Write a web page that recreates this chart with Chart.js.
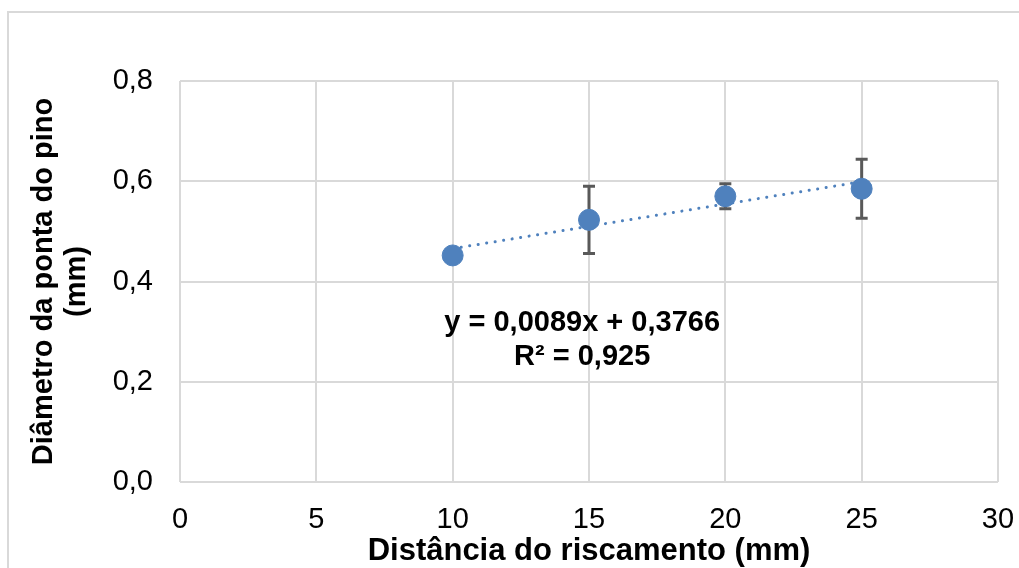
<!DOCTYPE html>
<html>
<head>
<meta charset="utf-8">
<script src="https://cdn.jsdelivr.net/npm/chart.js@4"></script>
<style>
  html, body { margin: 0; padding: 0; background: #fff; overflow: hidden; }
  #wrap { position: relative; width: 1019px; height: 568px; }
  #frame { position: absolute; left: 7px; top: 11px; width: 2000px; height: 2000px; border: 2px solid #d9d9d9; }
  canvas { position: absolute; left: 0; top: 0; }
</style>
</head>
<body>
<div id="wrap">
  <div id="frame"></div>
  <canvas id="chart" width="1019" height="568"></canvas>
</div>
<script>
// data
const distances = [10, 15, 20, 25];
const diameters = [0.452, 0.523, 0.570, 0.585];
const errors = [0.004, 0.067, 0.025, 0.059];

const xTicks = [0, 5, 10, 15, 20, 25, 30];
const yTicks = ["0,0", "0,2", "0,4", "0,6", "0,8"];

// linear trendline from the equation on the chart
const slope = 0.0089;
const intercept = 0.3766;
const trendLabel = ["y = 0,0089x + 0,3766", "R² = 0,925"];

const blue = "#4f81bd";
const gridColor = "#d9d9d9";

const errorBars = {
  id: "errorBars",
  beforeDatasetsDraw(chart) {
    const { ctx, scales } = chart;
    ctx.save();
    ctx.strokeStyle = "#595959";
    ctx.lineWidth = 3;
    distances.forEach((d, i) => {
      const x = scales.x.getPixelForValue(d);
      const top = scales.y.getPixelForValue(diameters[i] + errors[i]);
      const bot = scales.y.getPixelForValue(diameters[i] - errors[i]);
      ctx.beginPath();
      ctx.moveTo(x, top);
      ctx.lineTo(x, bot);
      ctx.moveTo(x - 6, top);
      ctx.lineTo(x + 6, top);
      ctx.moveTo(x - 6, bot);
      ctx.lineTo(x + 6, bot);
      ctx.stroke();
    });
    ctx.restore();
  },
  afterDraw(chart) {
    const { ctx, scales } = chart;
    ctx.save();
    ctx.font = "bold 29px 'Liberation Sans', Arial, sans-serif";
    ctx.fillStyle = "#000";
    ctx.textAlign = "center";
    ctx.textBaseline = "middle";
    const cx = scales.x.getPixelForValue(14.75);
    ctx.fillText(trendLabel[0], cx, scales.y.getPixelForValue(0.317));
    ctx.fillText(trendLabel[1], cx, scales.y.getPixelForValue(0.25));
    ctx.restore();
  }
};

const trendX = [distances[0], distances[distances.length - 1]];

new Chart(document.getElementById("chart").getContext("2d"), {
  type: "scatter",
  data: {
    datasets: [
      {
        label: "Diâmetro",
        data: distances.map((d, i) => ({ x: d, y: diameters[i] })),
        backgroundColor: blue,
        borderColor: blue,
        pointRadius: 10.5,
        pointHoverRadius: 10.5,
        order: 1,
      },
      {
        label: "Tendência",
        type: "line",
        data: trendX.map(x => ({ x: x, y: slope * x + intercept })),
        borderColor: blue,
        borderWidth: 3,
        borderDash: [0.1, 8.5],
        borderCapStyle: "round",
        pointRadius: 0,
        fill: false,
        order: 2,
      },
    ],
  },
  options: {
    responsive: false,
    animation: false,
    layout: { padding: { left: 0, right: 21, top: 81, bottom: 0 } },
    plugins: { legend: { display: false }, tooltip: { enabled: false } },
    scales: {
      x: {
        type: "linear",
        min: 0,
        max: 30,
        afterBuildTicks: s => { s.ticks = xTicks.map(v => ({ value: v })); },
        afterFit: s => { s.height = 86; s.paddingLeft = 0; s.paddingRight = 0; },
        grid: { color: gridColor, lineWidth: 2, drawTicks: false },
        border: { display: false },
        ticks: {
          padding: 21,
          color: "#000",
          font: { family: "'Liberation Sans', Arial, sans-serif", size: 29 },
          maxRotation: 0,
        },
        title: {
          display: true,
          text: "Distância do riscamento (mm)",
          color: "#000",
          padding: { top: 0, bottom: 0 },
          font: { family: "'Liberation Sans', Arial, sans-serif", size: 31, weight: "bold", lineHeight: 1.05 },
        },
      },
      y: {
        min: 0,
        max: 0.8,
        afterBuildTicks: s => { s.ticks = yTicks.map((t, i) => ({ value: i * 0.2 })); },
        afterFit: s => { s.width = 180; s.paddingTop = 0; s.paddingBottom = 0; },
        grid: { color: gridColor, lineWidth: 2, drawTicks: false },
        border: { display: false },
        ticks: {
          padding: 27,
          color: "#000",
          font: { family: "'Liberation Sans', Arial, sans-serif", size: 29 },
          callback: (v, i) => yTicks[i],
        },
        title: {
          display: true,
          text: ["Diâmetro da ponta do pino", "(mm)"],
          color: "#000",
          padding: { top: 27, bottom: 0 },
          font: { family: "'Liberation Sans', Arial, sans-serif", size: 29, weight: "bold", lineHeight: 1.15 },
        },
      },
    },
  },
  plugins: [errorBars],
});
</script>
</body>
</html>
